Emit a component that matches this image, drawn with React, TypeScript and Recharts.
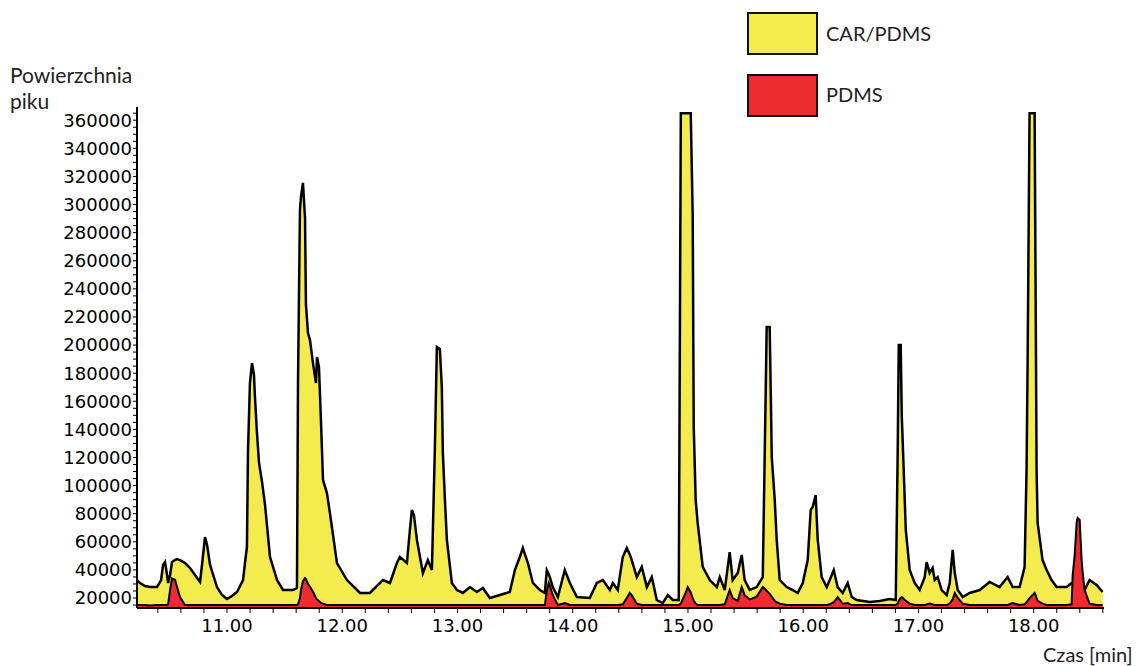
import React from 'react';
import { AreaChart, Area, XAxis, YAxis } from 'recharts';

// retention time [min]
const czas = [
  10.219, 10.245, 10.288, 10.332, 10.393, 10.428, 10.445, 10.462, 10.48, 10.489,
  10.506, 10.523, 10.549, 10.566, 10.592, 10.636, 10.679, 10.722, 10.766, 10.783,
  10.809, 10.827, 10.853, 10.913, 10.957, 11.0, 11.043, 11.087, 11.139, 11.156,
  11.173, 11.182, 11.199, 11.217, 11.234, 11.243, 11.26, 11.278, 11.304, 11.33,
  11.373, 11.434, 11.486, 11.572, 11.607, 11.616, 11.633, 11.642, 11.659, 11.677,
  11.685, 11.703, 11.72, 11.746, 11.772, 11.781, 11.798, 11.815, 11.833, 11.867,
  11.893, 11.954, 12.041, 12.154, 12.24, 12.353, 12.414, 12.474, 12.5, 12.561,
  12.587, 12.604, 12.622, 12.648, 12.7, 12.743, 12.778, 12.804, 12.821, 12.847,
  12.864, 12.873, 12.891, 12.908, 12.951, 12.995, 13.047, 13.108, 13.168, 13.22,
  13.281, 13.368, 13.454, 13.498, 13.541, 13.567, 13.611, 13.654, 13.715, 13.758,
  13.775, 13.792, 13.801, 13.827, 13.871, 13.931, 13.975, 14.036, 14.148, 14.209,
  14.261, 14.322, 14.348, 14.391, 14.434, 14.469, 14.495, 14.512, 14.556, 14.599,
  14.643, 14.686, 14.729, 14.781, 14.825, 14.868, 14.92, 14.938, 14.981, 14.998,
  15.024, 15.041, 15.05, 15.067, 15.084, 15.128, 15.189, 15.25, 15.276, 15.319,
  15.362, 15.388, 15.432, 15.466, 15.492, 15.536, 15.596, 15.649, 15.675, 15.683,
  15.709, 15.718, 15.727, 15.753, 15.77, 15.796, 15.857, 15.909, 15.952, 15.996,
  16.039, 16.065, 16.082, 16.108, 16.126, 16.16, 16.204, 16.23, 16.265, 16.299,
  16.343, 16.386, 16.421, 16.464, 16.577, 16.664, 16.75, 16.803, 16.82, 16.829,
  16.846, 16.855, 16.872, 16.89, 16.924, 16.967, 17.011, 17.054, 17.071, 17.097,
  17.123, 17.141, 17.167, 17.201, 17.245, 17.271, 17.297, 17.315, 17.341, 17.384,
  17.444, 17.531, 17.618, 17.704, 17.774, 17.817, 17.878, 17.921, 17.938, 17.947,
  17.964, 18.008, 18.017, 18.025, 18.034, 18.077, 18.112, 18.155, 18.199, 18.286,
  18.329, 18.338, 18.355, 18.373, 18.381, 18.399, 18.416, 18.425, 18.442, 18.485,
  18.546, 18.598,
];

// peak area, CAR/PDMS fibre
const carPdms = [
  32800, 30700, 28500, 27800, 27800, 32800, 43500, 45600, 36400, 30700,
  36400, 45600, 47000, 47700, 47000, 44900, 41400, 36400, 31400, 43500,
  63400, 57700, 43500, 27800, 22100, 19300, 21400, 24300, 32800, 44900,
  56300, 123900, 173000, 187200, 178700, 162300, 137400, 116100, 102600, 86200,
  49200, 32800, 25700, 25700, 27100, 173000, 296100, 305400, 315400, 290400,
  228500, 208600, 203600, 187200, 173000, 191500, 184400, 146700, 104000, 94700,
  80500, 44900, 32800, 23600, 23600, 32800, 30700, 44900, 49200, 44900,
  68400, 82600, 79100, 61300, 37800, 47000, 39900, 127500, 198600, 197200,
  170200, 123200, 89700, 61300, 30700, 25700, 23600, 27800, 24300, 27100,
  20000, 22100, 24300, 39900, 49200, 55600, 44900, 30700, 25700, 23600,
  39900, 37000, 34900, 27800, 20700, 39900, 30700, 20700, 20000, 30700,
  32800, 25700, 30700, 25700, 49200, 55600, 51000, 47000, 34900, 42100,
  27800, 34900, 18600, 16400, 22100, 18600, 18600, 365000, 365000, 365000,
  365000, 292600, 141700, 89700, 73400, 42100, 32800, 27800, 34900, 25700,
  52700, 32800, 37800, 50600, 32800, 25700, 27800, 34900, 169500, 212900,
  212900, 168000, 120400, 89700, 61300, 32800, 27800, 25700, 23600, 30700,
  47000, 82600, 84800, 93300, 61300, 34900, 27800, 32800, 39900, 27800,
  23600, 30700, 20700, 18600, 17200, 17900, 19300, 18600, 125300, 200100,
  200100, 150200, 111100, 68400, 39900, 30700, 25700, 34900, 45600, 37800,
  41400, 32800, 34900, 25700, 22100, 30700, 54200, 37800, 25700, 20700,
  23600, 25700, 31400, 27800, 34900, 27800, 27800, 42100, 111100, 185800,
  365000, 365000, 232100, 111100, 73400, 47000, 39900, 32800, 27800, 27800,
  30700, 30700, 30700, 30700, 30700, 30700, 29300, 22100, 25700, 32800,
  29300, 24300,
];

// peak area, PDMS fibre
const pdms = [
  15000, 15000, 15000, 14600, 15000, 15000, 15000, 15000, 15000, 15500,
  25700, 34000, 33000, 28000, 20700, 15000, 15000, 15000, 15000, 15000,
  15000, 15000, 15000, 15000, 15000, 15000, 15000, 15000, 15000, 15000,
  15000, 15000, 15000, 15000, 15000, 15000, 15000, 15000, 15000, 15000,
  15000, 15000, 15000, 15000, 15000, 15500, 20000, 25700, 32000, 34200,
  33500, 30000, 28000, 24500, 20000, 19000, 17800, 16500, 16000, 15000,
  15000, 15000, 15000, 15000, 15000, 15000, 15000, 15000, 15000, 15000,
  15000, 15000, 15000, 15000, 15000, 15000, 15000, 15000, 15000, 15000,
  15000, 15000, 15000, 15000, 15000, 15000, 15000, 15000, 15000, 15000,
  15000, 15000, 15000, 15000, 15000, 15000, 15000, 15000, 15000, 15000,
  25000, 30700, 29000, 22000, 15000, 16400, 15000, 15000, 15000, 15000,
  15000, 15000, 15000, 15000, 15500, 20000, 23600, 22000, 16000, 15000,
  15000, 15000, 15000, 15000, 15000, 15000, 15000, 16000, 24000, 27800,
  24000, 20000, 18000, 16000, 15000, 15000, 15000, 15000, 15000, 15500,
  25700, 20000, 18000, 27800, 22000, 19000, 21000, 27800, 26000, 25000,
  23000, 22000, 21000, 18000, 17000, 16000, 15000, 15000, 15000, 15000,
  15000, 15000, 15000, 15000, 15000, 15000, 15000, 15500, 17000, 20700,
  16000, 16400, 15000, 15000, 15000, 15000, 15000, 15000, 16000, 18000,
  20000, 20700, 19500, 18000, 16000, 15000, 15000, 15000, 15500, 16000,
  15500, 15000, 15000, 15000, 15000, 16000, 19000, 23600, 20000, 16000,
  15000, 15000, 15000, 15000, 15000, 16400, 15000, 15500, 17000, 18000,
  20000, 23600, 22000, 20000, 18000, 16000, 15000, 15000, 15000, 15000,
  15500, 36000, 50000, 74000, 76900, 75500, 47000, 38000, 25700, 16000,
  15000, 15000,
];

const xTicks = [
  10.4, 10.6, 10.8, 11, 11.2, 11.4, 11.6, 11.8, 12, 12.2, 12.4, 12.6, 12.8, 13,
  13.2, 13.4, 13.6, 13.8, 14, 14.2, 14.4, 14.6, 14.8, 15, 15.2, 15.4, 15.6, 15.8,
  16, 16.2, 16.4, 16.6, 16.8, 17, 17.2, 17.4, 17.6, 17.8, 18, 18.2, 18.4, 18.6,
];

// labelled every 20000, small marks every 5000
const yTicks = Array.from({ length: 71 }, (_, i) => 15000 + i * 5000);

const yTitle = ['Powierzchnia', 'piku'];
const seriesNames = ['CAR/PDMS', 'PDMS'];
const seriesColors = ['#f4ec4f', '#ee2c30'];

const data = czas.map((t, i) => ({ t, car: carPdms[i], pdms: pdms[i] }));

const tickFont = { fill: '#000', fontSize: 18, fontFamily: 'DejaVu Sans' };
const textFont = 'Lato, "Open Sans", sans-serif';

export default function App() {
  return (
    <div style={{ position: 'absolute', left: 0, top: 0, width: 1141, height: 666, background: '#fff' }}>
      <AreaChart width={1141} height={666} data={data} margin={{ top: 107, right: 37, bottom: 0, left: 0 }}>
        <XAxis
          dataKey="t"
          type="number"
          domain={[10.219, 18.61]}
          allowDataOverflow
          ticks={xTicks}
          interval={0}
          height={58}
          tickSize={5}
          tickMargin={6}
          tick={tickFont}
          axisLine={{ stroke: '#000', strokeWidth: 2 }}
          tickLine={{ stroke: '#000' }}
          tickFormatter={(v: number) => (Math.abs(v - Math.round(v)) < 1e-6 ? v.toFixed(2) : '')}
        />
        <YAxis
          type="number"
          domain={[12900, 369400]}
          allowDataOverflow
          ticks={yTicks}
          interval={0}
          width={137}
          tickSize={4}
          tickMargin={1}
          tick={tickFont}
          axisLine={{ stroke: '#000', strokeWidth: 2 }}
          tickLine={{ stroke: '#000' }}
          tickFormatter={(v: number) => (v % 20000 === 0 ? String(v) : '')}
        />
        <Area
          type="linear"
          dataKey="car"
          name={seriesNames[0]}
          fill={seriesColors[0]}
          fillOpacity={1}
          stroke="#000"
          strokeWidth={2.5}
          dot={false}
          activeDot={false}
          isAnimationActive={false}
        />
        <Area
          type="linear"
          dataKey="pdms"
          name={seriesNames[1]}
          fill={seriesColors[1]}
          fillOpacity={1}
          stroke="#000"
          strokeWidth={2}
          dot={false}
          activeDot={false}
          isAnimationActive={false}
        />
      </AreaChart>

      {/* axis titles */}
      {yTitle.map((line, i) => (
        <div
          key={line}
          style={{
            position: 'absolute',
            left: 10,
            top: 64 + i * 26,
            fontFamily: textFont,
            fontSize: 21,
            lineHeight: '21px',
            color: '#222',
            whiteSpace: 'nowrap',
          }}
        >
          {line}
        </div>
      ))}
      <div style={{ position: 'absolute', left: 1043, top: 644, fontFamily: textFont, fontSize: 20, lineHeight: '20px', color: '#222', whiteSpace: 'nowrap' }}>
        Czas [min]
      </div>

      {/* legend */}
      {seriesNames.map((name, i) => (
        <div key={name}>
          <div
            style={{
              position: 'absolute',
              left: 747,
              top: 12 + i * 62,
              width: 67,
              height: 39,
              background: seriesColors[i],
              border: '2px solid #111',
            }}
          />
          <div
            style={{
              position: 'absolute',
              left: 826,
              top: 23 + i * 61,
              fontFamily: textFont,
              fontSize: 20,
              lineHeight: '20px',
              color: '#222',
              whiteSpace: 'nowrap',
            }}
          >
            {name}
          </div>
        </div>
      ))}
    </div>
  );
}
